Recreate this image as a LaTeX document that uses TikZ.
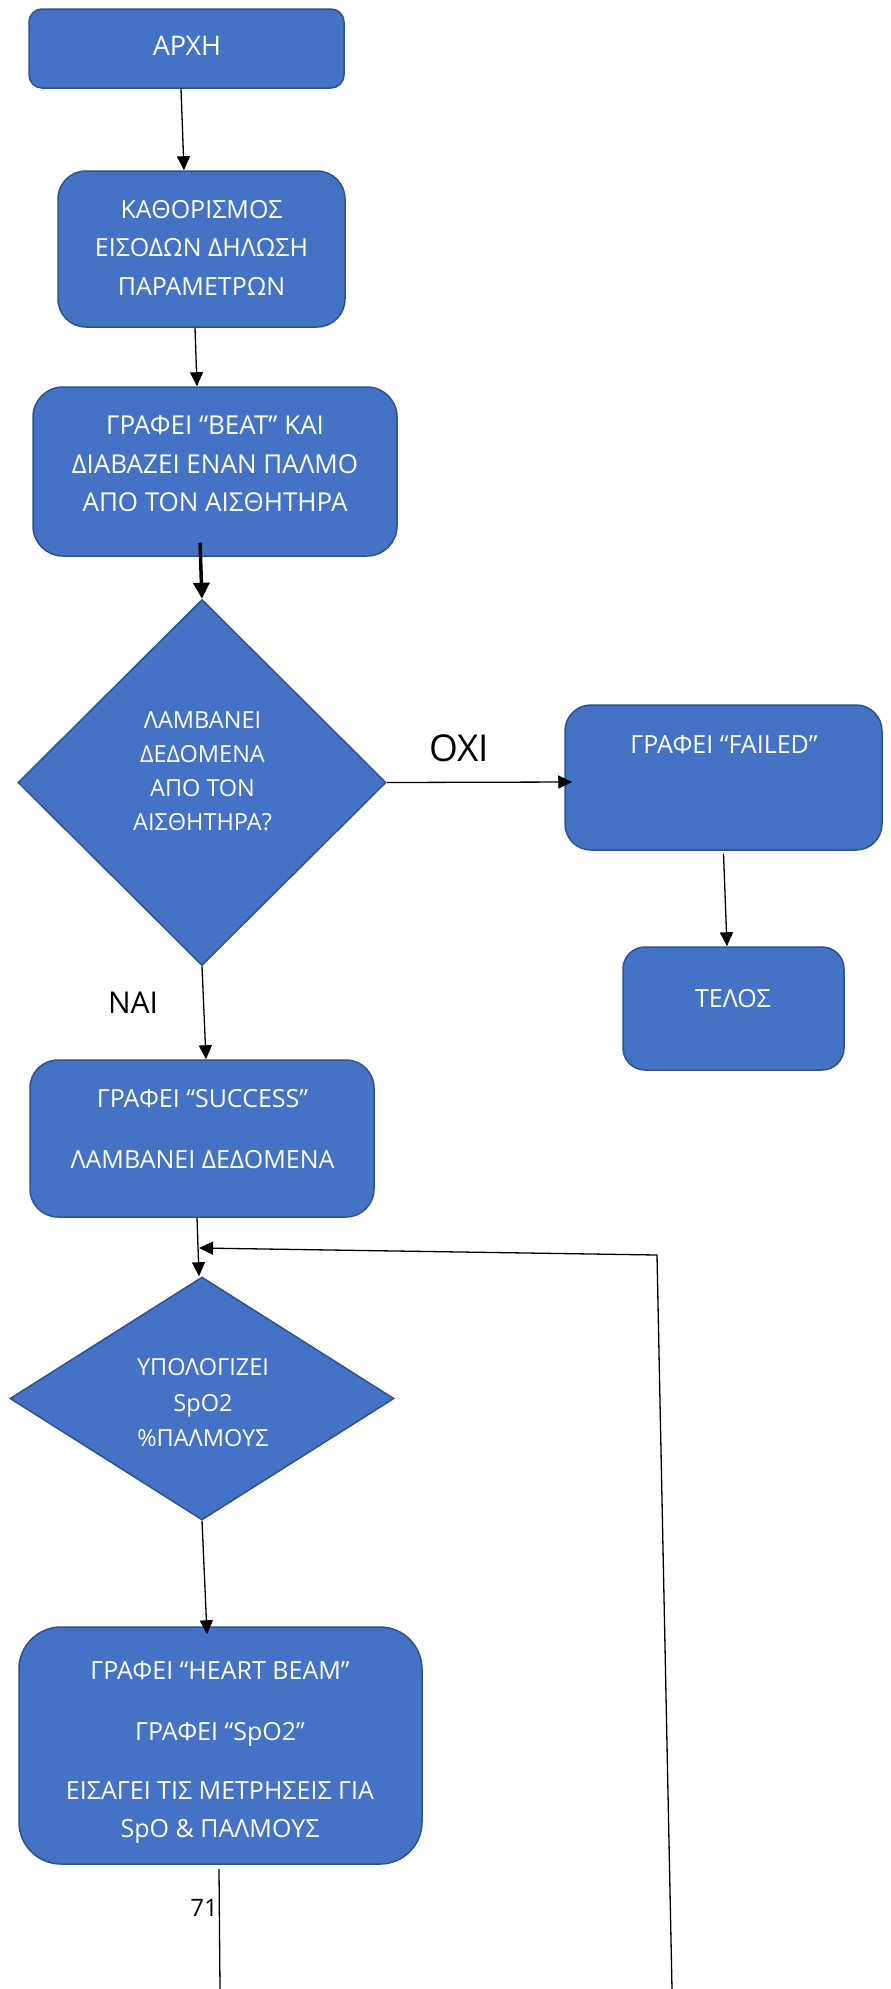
\documentclass[tikz,border=0pt]{standalone}
\usepackage{fontspec}
\setmainfont{Open Sans}
\usetikzlibrary{arrows.meta,shapes.geometric}
\definecolor{boxfill}{HTML}{4472C4}
\definecolor{boxline}{HTML}{2F528F}
\tikzset{
  procbox/.style={draw=boxline, fill=boxfill, line width=1.5pt, inner sep=0pt},
  decbox/.style={shape=diamond, draw=boxline, fill=boxfill, line width=1.5pt, inner sep=0pt},
  wline/.style={text=white, font=\fontsize{25}{30}\selectfont, anchor=base, inner sep=0pt},
  bline/.style={text=white, font=\fontsize{26}{31}\selectfont, anchor=base, inner sep=0pt},
  dline/.style={text=white, font=\fontsize{23.5}{28}\selectfont, anchor=base, inner sep=0pt},
  conn/.style={line width=1.3pt, -{Triangle[length=14pt,width=13pt]}},
  thickconn/.style={line width=3.5pt, -{Triangle[length=16pt,width=16pt]}},
  plainconn/.style={line width=1.3pt},
}
\begin{document}
\begin{tikzpicture}[x=1pt,y=-1pt]
\path[use as bounding box, fill=white] (0,0) rectangle (891,1989);

% boxes
\node[procbox, minimum width=315pt, minimum height=79pt, rounded corners=13pt] (arxi) at (186.5,48.5) {};
\node[procbox, minimum width=287pt, minimum height=156pt, rounded corners=28pt] (kath) at (201.5,249) {};
\node[procbox, minimum width=364pt, minimum height=169pt, rounded corners=30pt] (beat) at (215,471.5) {};
\node[decbox, minimum width=368pt, minimum height=366pt] (d1) at (202,782.5) {};
\node[procbox, minimum width=317pt, minimum height=145pt, rounded corners=26pt] (failed) at (723.5,777.5) {};
\node[procbox, minimum width=221pt, minimum height=123pt, rounded corners=22pt] (telos) at (733.5,1008.5) {};
\node[procbox, minimum width=344pt, minimum height=157pt, rounded corners=28pt] (success) at (202,1138.5) {};
\node[decbox, minimum width=384pt, minimum height=243pt] (d2) at (202,1398.5) {};
\node[procbox, minimum width=403pt, minimum height=237pt, rounded corners=42pt] (heart) at (220.5,1745.5) {};

% texts
\node[wline, font=\fontsize{27}{32}\selectfont] (t1) at (187,55) {ΑΡΧΗ};
\node[wline] (t2a) at (201.5,218) {ΚΑΘΟΡΙΣΜΟΣ};
\node[wline] (t2b) at (201.5,256) {ΕΙΣΟΔΩΝ ΔΗΛΩΣΗ};
\node[wline] (t2c) at (201.5,295) {ΠΑΡΑΜΕΤΡΩΝ};
\node[bline] (t3a) at (215,434.5) {ΓΡΑΦΕΙ “BEAT” ΚΑΙ};
\node[bline] (t3b) at (215,473) {ΔΙΑΒΑΖΕΙ ΕΝΑΝ ΠΑΛΜΟ};
\node[bline] (t3c) at (215,511.5) {ΑΠΟ ΤΟΝ ΑΙΣΘΗΤΗΡΑ};
\node[dline] (t4a) at (202.5,728) {ΛΑΜΒΑΝΕΙ};
\node[dline] (t4b) at (202.5,762) {ΔΕΔΟΜΕΝΑ};
\node[dline] (t4c) at (202.5,796) {ΑΠΟ ΤΟΝ};
\node[dline] (t4d) at (202.5,830) {ΑΙΣΘΗΤΗΡΑ?};
\node[wline] (t5) at (724,753) {ΓΡΑΦΕΙ “FAILED”};
\node[wline] (t6) at (733,1007) {ΤΕΛΟΣ};
\node[wline] (t7a) at (202.5,1107) {ΓΡΑΦΕΙ “SUCCESS”};
\node[wline] (t7b) at (202.5,1168) {ΛΑΜΒΑΝΕΙ ΔΕΔΟΜΕΝΑ};
\node[dline] (t8a) at (203,1375) {ΥΠΟΛΟΓΙΖΕΙ};
\node[dline] (t8b) at (203,1411) {SpO2};
\node[dline] (t8c) at (203,1446) {\%ΠΑΛΜΟΥΣ};
\node[wline] (t9a) at (220,1679) {ΓΡΑΦΕΙ “HEART BEAM”};
\node[wline] (t9b) at (220,1740) {ΓΡΑΦΕΙ “SpO2”};
\node[wline] (t9c) at (220,1799) {ΕΙΣΑΓΕΙ ΤΙΣ ΜΕΤΡΗΣΕΙΣ ΓΙΑ};
\node[wline] (t9d) at (220,1837) {SpO \& ΠΑΛΜΟΥΣ};

% labels
\node[anchor=base, inner sep=0pt, font=\fontsize{37}{44}\selectfont] (oxi) at (459,761) {ΟΧΙ};
\node[anchor=base, inner sep=0pt, font=\fontsize{30}{36}\selectfont] (nai) at (133,1013) {ΝΑΙ};
\node[anchor=base east, inner sep=0pt, font=\fontsize{24}{29}\selectfont] (pg) at (218,1916) {71};

% free ends
\coordinate (hbot) at (220,1989);
\coordinate (fbot) at (672,1989);
\coordinate (fcorner) at (657,1255);
\coordinate (ftip) at (199,1248);

% connectors
\draw[conn] ([xshift=-5.5pt]arxi.south) -- ([xshift=-17.5pt]kath.north);
\draw[conn] ([xshift=-6.5pt]kath.south) -- ([xshift=-18pt]beat.north);
\draw[thickconn] ([xshift=-15pt,yshift=14pt]beat.south) -- (d1.north);
\draw[conn] (d1.east) -- ([xshift=8pt,yshift=-4.5pt]failed.west);
\draw[conn] ([yshift=-3pt]failed.south) -- ([xshift=-6.5pt]telos.north);
\draw[conn] (d1.south) -- ([xshift=4pt]success.north);
\draw[conn] ([xshift=-5pt]success.south) -- ([xshift=-3pt]d2.north);
\draw[conn] (d2.south) -- ([xshift=-13.5pt,yshift=-8pt]heart.north);
\draw[plainconn] ([xshift=-1.5pt,yshift=-4pt]heart.south) -- (hbot);
\draw[conn] (fbot) -- (fcorner) -- (ftip);
\end{tikzpicture}
\end{document}
